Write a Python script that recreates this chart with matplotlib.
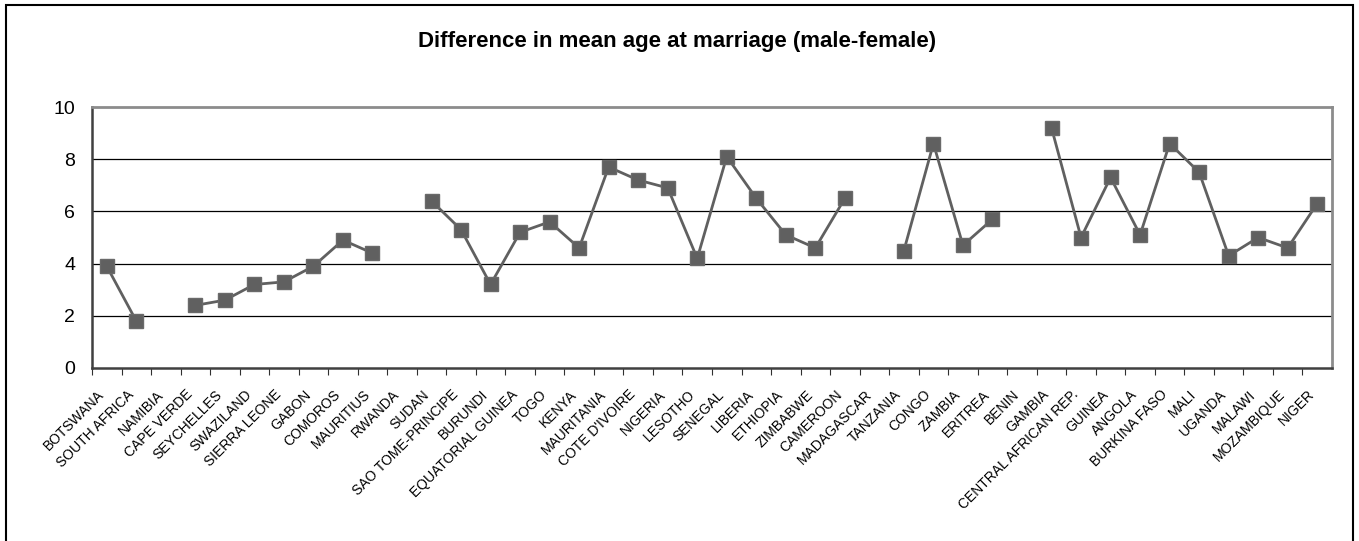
import numpy as np
import matplotlib
matplotlib.use("Agg")
from matplotlib import pyplot as plt
from matplotlib.patches import Rectangle
from matplotlib.transforms import ScaledTranslation

plt.rcParams['font.family'] = ['Liberation Sans', 'DejaVu Sans']

countries = ["BOTSWANA", "SOUTH AFRICA", "NAMIBIA", "CAPE VERDE", "SEYCHELLES",
             "SWAZILAND", "SIERRA LEONE", "GABON", "COMOROS", "MAURITIUS",
             "RWANDA", "SUDAN", "SAO TOME-PRINCIPE", "BURUNDI", "EQUATORIAL GUINEA",
             "TOGO", "KENYA", "MAURITANIA", "COTE D'IVOIRE", "NIGERIA",
             "LESOTHO", "SENEGAL", "LIBERIA", "ETHIOPIA", "ZIMBABWE",
             "CAMEROON", "MADAGASCAR", "TANZANIA", "CONGO", "ZAMBIA",
             "ERITREA", "BENIN", "GAMBIA", "CENTRAL AFRICAN REP.", "GUINEA",
             "ANGOLA", "BURKINA FASO", "MALI", "UGANDA", "MALAWI",
             "MOZAMBIQUE", "NIGER"]

# no data for Namibia, Rwanda, Madagascar, Benin
age_gap = [3.9, 1.8, None, 2.4, 2.6,
           3.2, 3.3, 3.9, 4.9, 4.4,
           None, 6.4, 5.3, 3.2, 5.2,
           5.6, 4.6, 7.7, 7.2, 6.9,
           4.2, 8.1, 6.5, 5.1, 4.6,
           6.5, None, 4.5, 8.6, 4.7,
           5.7, None, 9.2, 5.0, 7.3,
           5.1, 8.6, 7.5, 4.3, 5.0,
           4.6, 6.3]

y = np.array([np.nan if v is None else v for v in age_gap])
x = np.arange(len(countries))

fig = plt.figure(figsize=(13.59, 5.41), dpi=100)
fig.patches.append(Rectangle((6 / 1359, -0.05), 1347 / 1359, 1.05 - 5 / 541,
                             transform=fig.transFigure, fill=False,
                             edgecolor='black', linewidth=1.5))

ax = fig.add_axes([92 / 1359, 173 / 541, 1240 / 1359, 261 / 541])

ax.plot(x, y, color='#606060', linewidth=2, marker='s', markersize=10,
        markerfacecolor='#606060', markeredgecolor='#6a6a6a', zorder=3)

ax.set_xlim(-0.5, len(countries) - 0.5)
ax.set_ylim(0, 10)
ax.set_yticks([0, 2, 4, 6, 8, 10])
ax.tick_params(axis='y', length=0, labelsize=14, pad=12)

# tick marks sit between categories, names under the category centres
ax.set_xticks(x - 0.5, minor=False)
ax.set_xticks(x, minor=True)
ax.set_xticklabels([])
ax.set_xticklabels(countries, minor=True, rotation=45, ha='right', va='top',
                   rotation_mode='anchor', fontsize=10)
ax.tick_params(axis='x', which='major', length=5, direction='out', color='#303030')
ax.tick_params(axis='x', which='minor', length=0, pad=14)
shift = ScaledTranslation(-7 / 72, 0, fig.dpi_scale_trans)
for lbl in ax.get_xticklabels(minor=True):
    lbl.set_transform(lbl.get_transform() + shift)

for v in [2, 4, 6, 8]:
    ax.axhline(v, color='black', linewidth=0.9, zorder=1)

for side in ['top', 'right']:
    ax.spines[side].set_color('#8c8c8c')
    ax.spines[side].set_linewidth(2)
for side in ['left', 'bottom']:
    ax.spines[side].set_color('#404040')
    ax.spines[side].set_linewidth(1.8)

fig.text(0.498, 1 - 41 / 541, "Difference in mean age at marriage (male-female)",
         ha='center', va='center', fontsize=16, fontweight='bold')

fig.savefig("out.png", dpi=100)
